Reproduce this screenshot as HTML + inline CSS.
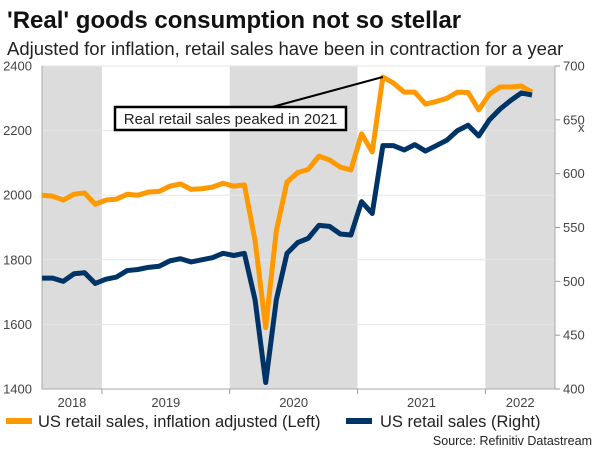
<!DOCTYPE html>
<html><head><meta charset="utf-8"><style>
body{margin:0;background:#fff;font-family:"Liberation Sans",Arial,sans-serif}
svg text{font-family:"Liberation Sans",Arial,sans-serif}
</style></head><body>
<svg id="c" width="600" height="450" viewBox="0 0 600 450">
<text x="7" y="28" font-size="24" font-weight="bold" fill="#111">'Real' goods consumption not so stellar</text>
<text x="7" y="55" font-size="18.5" fill="#222">Adjusted for inflation, retail sales have been in contraction for a year</text>
<g id="plot"></g>
<text x="578" y="132" font-size="13" fill="#444">x</text>
<line x1="6" y1="421" x2="32" y2="421" stroke="#ff9900" stroke-width="6"/>
<text x="38" y="427" font-size="16.5" fill="#222">US retail sales, inflation adjusted (Left)</text>
<line x1="346" y1="421" x2="372" y2="421" stroke="#003366" stroke-width="6"/>
<text x="380" y="427" font-size="16.5" fill="#222">US retail sales (Right)</text>
<text x="592" y="445" font-size="12.5" fill="#222" text-anchor="end">Source: Refinitiv Datastream</text>
</svg>
<script>
const realSales=[2000,1997,1985,2003,2007,1972,1985,1988,2003,2000,2010,2012,2028,2035,2018,2020,2025,2037,2028,2032,1860,1590,1890,2041,2070,2080,2121,2109,2087,2078,2190,2134,2366,2347,2319,2319,2282,2290,2300,2319,2318,2264,2313,2335,2335,2338,2319];
const nominalSales=[503,503,500,507,508,498,502,504,510,511,513,514,519,521,518,520,522,526,524,526,483,406,483,526,536,540,552,551,544,543,574,563,626,626,622,627,621,626,631,640,645,635,650,660,668,675,673];
const leftTicks=[1400,1600,1800,2000,2200,2400];
const rightTicks=[400,450,500,550,600,650,700];
const years=["2018","2019","2020","2021","2022"];
const NS="http://www.w3.org/2000/svg";
const g=document.getElementById('plot');
const X0=42,X1=555,Y0=66,Y1=389;
const xs=i=>X0+i*(490/(realSales.length-1));
const yl=v=>Y1-(v-1400)/1000*(Y1-Y0);
const yr=v=>Y1-(v-400)/300*(Y1-Y0);
function el(t,a){const e=document.createElementNS(NS,t);for(const k in a)e.setAttribute(k,a[k]);g.appendChild(e);return e;}
const bounds=[[-0.4,6],[6,18],[18,30],[30,42],[42,48.8]];
bounds.forEach((b,k)=>{const x1=Math.max(X0,xs(b[0])-4),x2=Math.min(X1,xs(b[1])-4);
 if(k%2===0){const r=el('rect',{x:x1,y:Y0,width:x2-x1,height:Y1-Y0,fill:'#dcdcdc'});
 
 }
 const t=el('text',{x:(x1+x2)/2,y:407,'font-size':13,fill:'#444','text-anchor':'middle'});t.textContent=years[k];
 
 
 if(k>0){const tk=el('line',{x1:x1,y1:Y1,x2:x1,y2:Y1+5,stroke:'#999'});
 
 }
});
leftTicks.forEach(v=>{const y=yl(v);
 const l=el('line',{x1:X0,y1:y,x2:X1,y2:y,stroke:'#e6e6e6'});
 
 
 const t=el('text',{x:X0-10,y:y+4.5,'font-size':13,fill:'#444','text-anchor':'end'});t.textContent=v;
 
 });
rightTicks.forEach(v=>{const y=yr(v);
 const l=el('line',{x1:X1,y1:y,x2:X1+5,y2:y,stroke:'#999'});
 
 
 const t=el('text',{x:X1+8,y:y+4.5,'font-size':13,fill:'#444'});t.textContent=v;
 
 });
const ax=el('path',{d:`M${X0},${Y0}V${Y1}H${X1}V${Y0}`,fill:'none',stroke:'#aaa'});


const pr=el('polyline',{points:realSales.map((v,i)=>xs(i)+','+yl(v)).join(' '),fill:'none',stroke:'#ff9900','stroke-width':5,'stroke-linejoin':'round'});


const pn=el('polyline',{points:nominalSales.map((v,i)=>xs(i)+','+yr(v)).join(' '),fill:'none',stroke:'#003366','stroke-width':5,'stroke-linejoin':'round'});


let pk=0;realSales.forEach((v,i)=>{if(v>realSales[pk])pk=i;});
const al=el('line',{x1:272,y1:107,x2:xs(pk),y2:yl(realSales[pk]),stroke:'#000','stroke-width':2});


const ab=el('rect',{x:115,y:107,width:231,height:23,fill:'#fff',stroke:'#000','stroke-width':2.5});


const at=el('text',{x:230.5,y:124,'font-size':15,fill:'#222','text-anchor':'middle'});at.textContent='Real retail sales peaked in 2021';


</script>
</body></html>
